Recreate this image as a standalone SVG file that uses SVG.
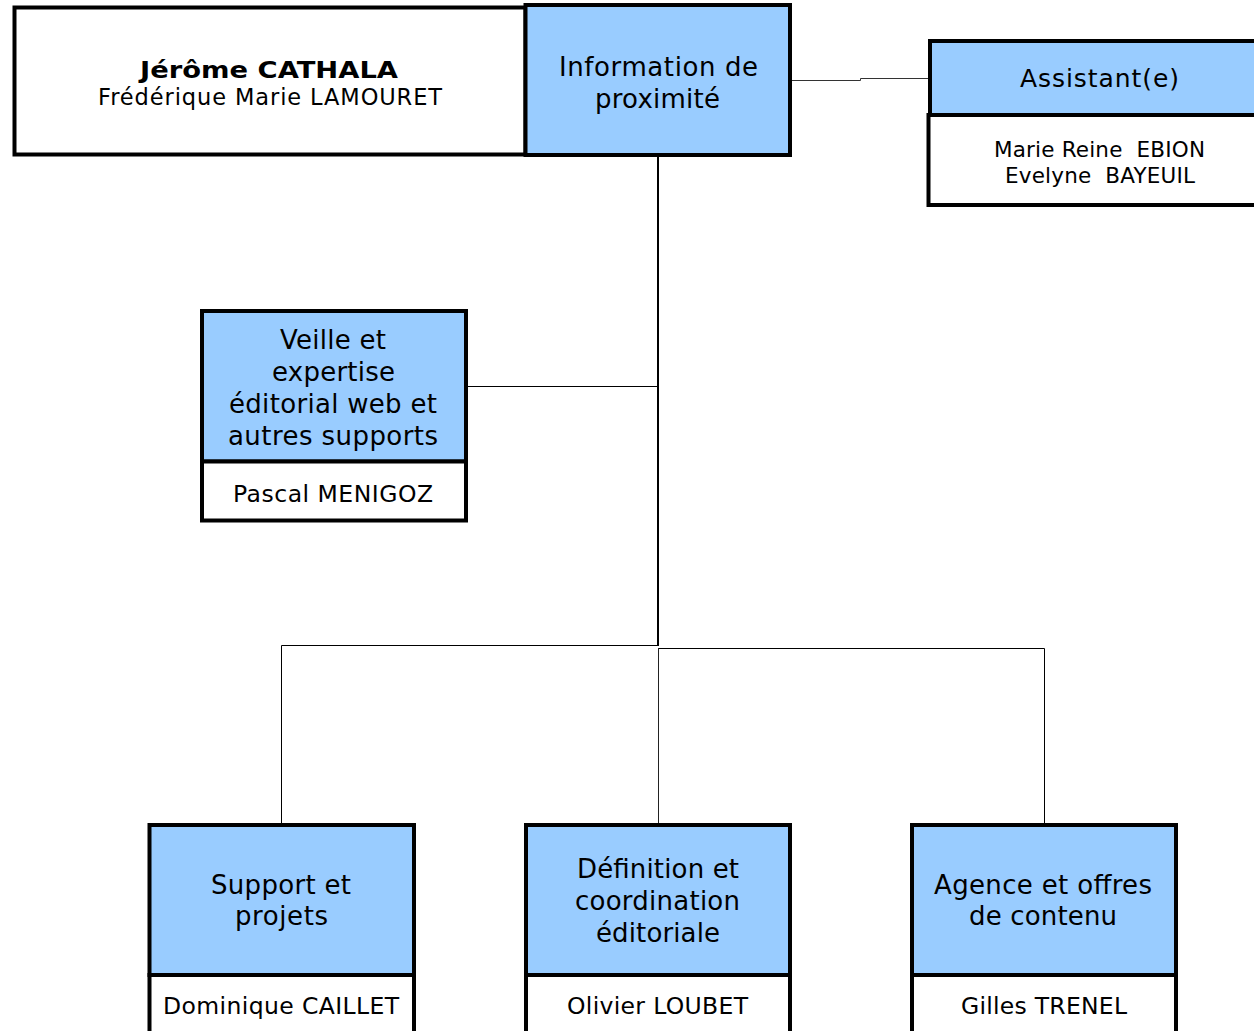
<svg xmlns="http://www.w3.org/2000/svg" width="1254" height="1031" viewBox="0 0 1254 1031">
<style>
.hd{fill:#99CCFF;stroke:#000;stroke-width:4}
.bd{fill:#fff;stroke:#000;stroke-width:4}
.t{font-family:"DejaVu Sans",Verdana,sans-serif;fill:#000;text-anchor:middle;white-space:pre}
.h{font-size:26px}
.n{font-size:23.5px}
.s{font-size:21.5px}
.c{fill:none;stroke:#000;stroke-width:1}
</style>
<rect width="1254" height="1031" fill="#fff"/>
<g id="connectors">
<path class="c" d="M790,80.5 H860.5 V78.5 H930" style="stroke:#333"/>
<path class="c" d="M658,156 V646" style="stroke-width:2"/>
<path class="c" d="M466,386.5 H658"/>
<path class="c" d="M281.5,825 V645.5 H658"/>
<path class="c" d="M658,648.5 H1044.5 V825"/>
<path class="c" d="M658.5,648 V825" style="stroke:#222"/>
</g>
<g id="director">
<rect class="bd" x="14.5" y="7.5" width="511" height="147"/>
<text class="t" x="269" y="78" font-size="23.5" font-weight="bold" textLength="258" lengthAdjust="spacingAndGlyphs">Jérôme CATHALA</text>
<text class="t" x="270" y="105" font-size="22.5" textLength="344" lengthAdjust="spacing">Frédérique Marie LAMOURET</text>
</g>
<g id="info">
<rect class="hd" x="525.5" y="5" width="264.5" height="150"/>
<text class="t h" x="658.5" y="76" textLength="199" lengthAdjust="spacing">Information de</text>
<text class="t h" x="657.5" y="108" textLength="125" lengthAdjust="spacing">proximité</text>
</g>
<g id="assistant">
<rect class="hd" x="930" y="41" width="340" height="74"/>
<rect class="bd" x="928.5" y="115" width="340" height="90"/>
<text class="t" x="1099.5" y="87" font-size="25" textLength="159" lengthAdjust="spacing">Assistant(e)</text>
<text class="t s" x="1099.5" y="157" textLength="211" lengthAdjust="spacing">Marie Reine  EBION</text>
<text class="t s" x="1100" y="183" textLength="190" lengthAdjust="spacing">Evelyne  BAYEUIL</text>
</g>
<g id="veille">
<rect class="hd" x="202" y="311" width="264" height="150.5"/>
<rect class="bd" x="202" y="461.5" width="264" height="59"/>
<text class="t h" x="333" y="349" textLength="106" lengthAdjust="spacing">Veille et</text>
<text class="t h" x="333.5" y="381" textLength="123" lengthAdjust="spacing">expertise</text>
<text class="t h" x="333" y="413" textLength="208" lengthAdjust="spacing">éditorial web et</text>
<text class="t h" x="333" y="445" textLength="210" lengthAdjust="spacing">autres supports</text>
<text class="t n" x="333" y="502" textLength="200" lengthAdjust="spacing">Pascal MENIGOZ</text>
</g>
<g id="support">
<rect class="hd" x="149.5" y="825" width="264.5" height="150"/>
<rect class="bd" x="149.5" y="975" width="264.5" height="70"/>
<text class="t h" x="281" y="894" textLength="140" lengthAdjust="spacing">Support et</text>
<text class="t h" x="281.5" y="925" textLength="93" lengthAdjust="spacing">projets</text>
<text class="t n" x="281" y="1014" textLength="236" lengthAdjust="spacing">Dominique CAILLET</text>
</g>
<g id="definition">
<rect class="hd" x="526" y="825" width="264" height="150"/>
<rect class="bd" x="526" y="975" width="264" height="70"/>
<text class="t h" x="658" y="878" textLength="162" lengthAdjust="spacing">Définition et</text>
<text class="t h" x="657.5" y="910" textLength="165" lengthAdjust="spacing">coordination</text>
<text class="t h" x="658" y="942" textLength="124" lengthAdjust="spacing">éditoriale</text>
<text class="t n" x="657.5" y="1014" textLength="181" lengthAdjust="spacing">Olivier LOUBET</text>
</g>
<g id="agence">
<rect class="hd" x="912" y="825" width="264" height="150"/>
<rect class="bd" x="912" y="975" width="264" height="70"/>
<text class="t h" x="1043" y="894" textLength="218" lengthAdjust="spacing">Agence et offres</text>
<text class="t h" x="1043" y="925" textLength="148" lengthAdjust="spacing">de contenu</text>
<text class="t n" x="1044" y="1014" textLength="166" lengthAdjust="spacing">Gilles TRENEL</text>
</g>
</svg>
